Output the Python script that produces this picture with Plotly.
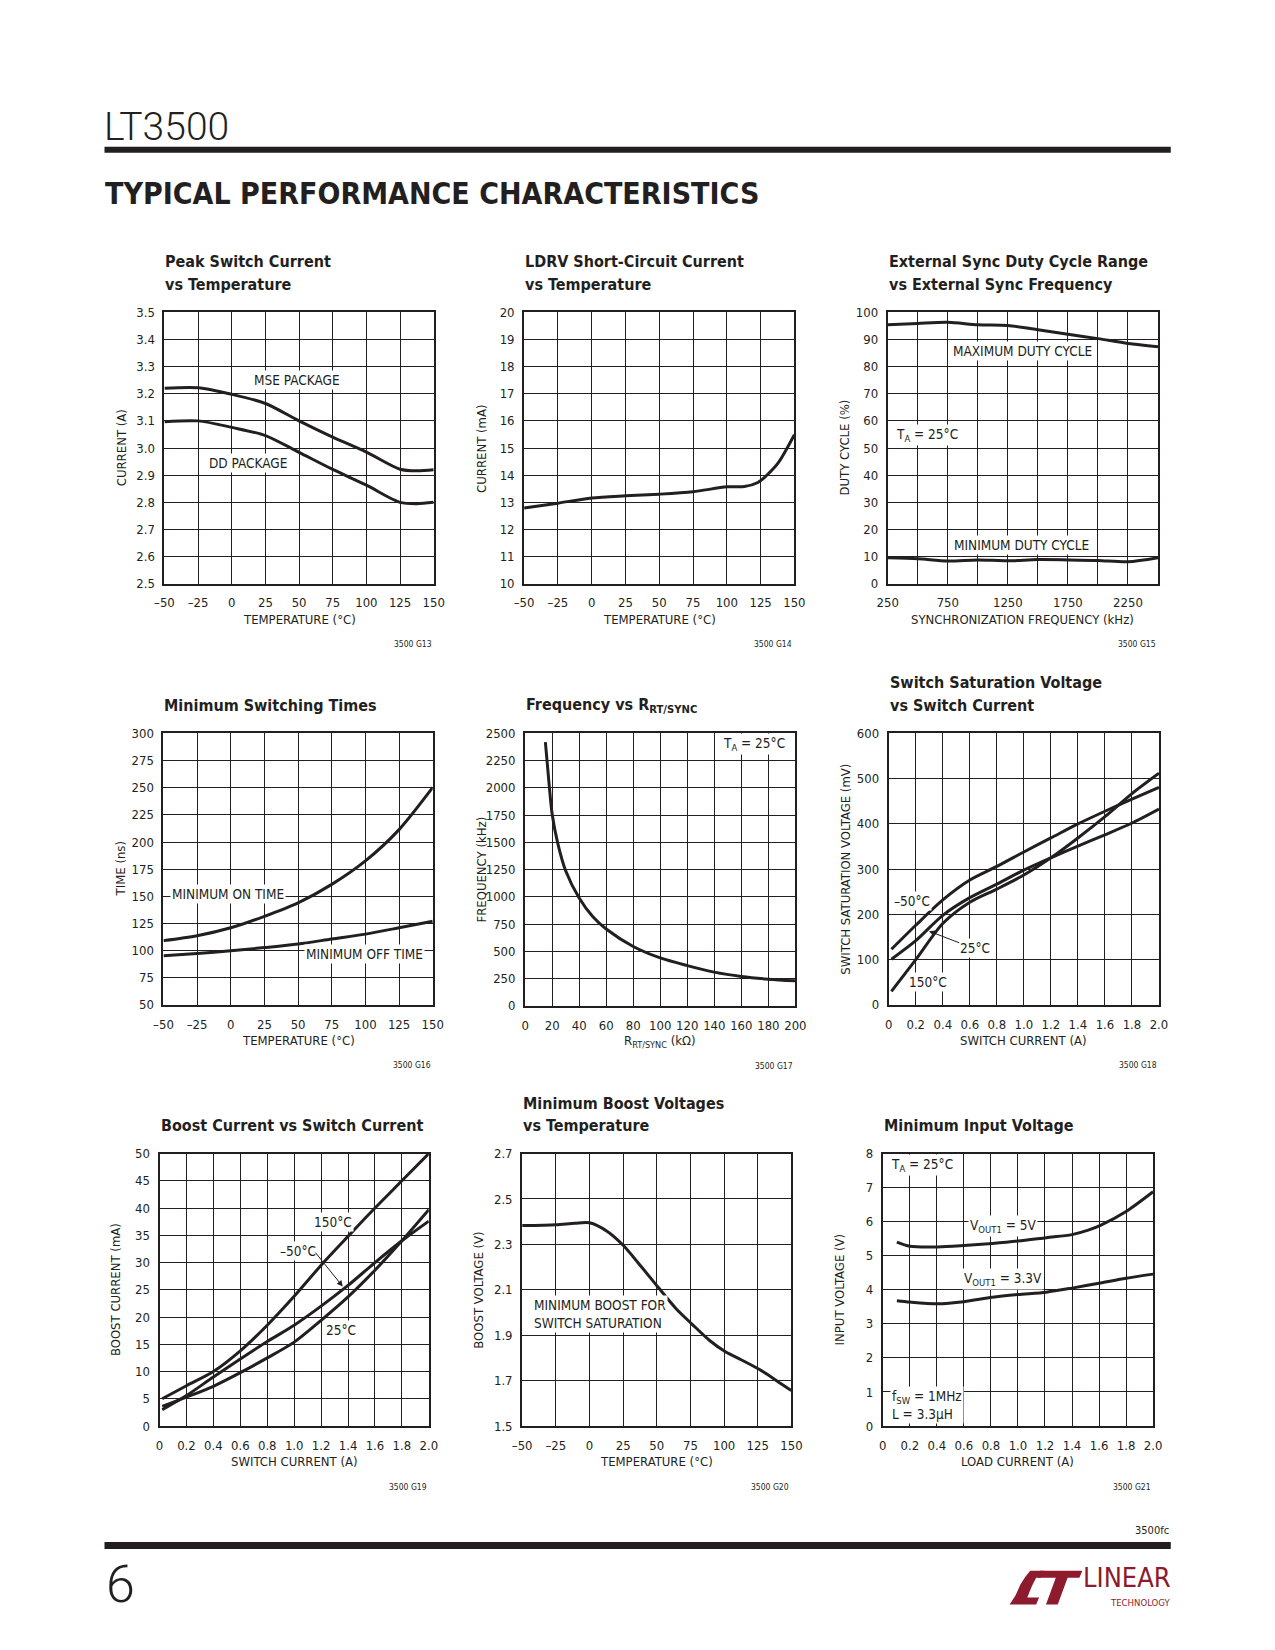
import plotly.graph_objects as go

# ---------------- page geometry helpers ----------------
# the figure is placed by the page 8px from the top-left corner
OFF = 8
W, H = 1275, 1650


def fx(px):
    return (px - OFF) / W


def fy(py):
    return 1 - (py - OFF) / H


FONT = "Liberation Sans Narrow, DejaVu Sans Condensed, Arial Narrow, Roboto, sans-serif"
LIGHT = "Roboto, DejaVu Sans Condensed, sans-serif"
INK = "#231f20"
LOGO = "#8e1b2d"

# ---------------- data ----------------
temp_ticks = [-50, -25, 0, 25, 50, 75, 100, 125, 150]
temp_labels = ["–50", "–25", "0", "25", "50", "75", "100", "125", "150"]
amp_ticks = [0, 0.2, 0.4, 0.6, 0.8, 1.0, 1.2, 1.4, 1.6, 1.8, 2.0]
amp_labels = ["0", "0.2", "0.4", "0.6", "0.8", "1.0", "1.2", "1.4", "1.6", "1.8", "2.0"]

# G13 Peak switch current
g13_temp = [-50, -25, 0, 25, 50, 75, 100, 125, 137.5, 150]
g13_mse = [3.220, 3.222, 3.198, 3.164, 3.100, 3.040, 2.985, 2.922, 2.916, 2.920]
g13_dd = [3.097, 3.100, 3.076, 3.046, 2.984, 2.921, 2.863, 2.800, 2.795, 2.800]
g13_yticks = [2.5, 2.6, 2.7, 2.8, 2.9, 3.0, 3.1, 3.2, 3.3, 3.4, 3.5]
g13_ylabels = ["2.5", "2.6", "2.7", "2.8", "2.9", "3.0", "3.1", "3.2", "3.3", "3.4", "3.5"]

# G14 LDRV short-circuit current
g14_temp = [-50, -25, 0, 25, 50, 75, 100, 113, 123, 129, 138, 150]
g14_cur = [12.79, 12.97, 13.16, 13.24, 13.30, 13.39, 13.57, 13.58, 13.73, 13.97, 14.45, 15.49]
g14_yticks = [10, 11, 12, 13, 14, 15, 16, 17, 18, 19, 20]

# G15 External sync duty cycle
g15_freq = [250, 500, 750, 1000, 1250, 1500, 1750, 2000, 2250, 2500]
g15_max = [95.4, 95.9, 96.3, 95.4, 95.1, 93.6, 91.9, 90.3, 88.5, 87.3]
g15_min = [9.6, 9.2, 8.4, 8.8, 8.5, 8.9, 8.8, 8.6, 8.1, 9.6]
g15_xticks = [250, 750, 1250, 1750, 2250]
g15_yticks = [0, 10, 20, 30, 40, 50, 60, 70, 80, 90, 100]

# G16 Minimum switching times
g16_temp = [-50, -25, 0, 25, 50, 75, 100, 125, 150]
g16_on = [109.2, 113.7, 121.0, 131.6, 144.0, 161.0, 182.6, 211.4, 250.2]
g16_off = [95.2, 97.3, 99.8, 102.8, 106.1, 110.7, 115.2, 121.0, 127.1]
g16_yticks = [50, 75, 100, 125, 150, 175, 200, 225, 250, 275, 300]

# G17 Frequency vs R
g17_r = [15, 17.5, 20, 24, 30, 40, 50, 60, 80, 100, 120, 140, 160, 180, 200]
g17_f = [2420, 2070, 1760, 1500, 1240, 990, 820, 705, 545, 440, 370, 310, 270, 245, 230]
g17_xticks = [0, 20, 40, 60, 80, 100, 120, 140, 160, 180, 200]
g17_yticks = [0, 250, 500, 750, 1000, 1250, 1500, 1750, 2000, 2250, 2500]

# G18 Switch saturation voltage
g18_i = [0.02, 0.2, 0.4, 0.6, 0.8, 1.0, 1.2, 1.4, 1.6, 1.8, 2.0]
g18_m50 = [123, 176, 232, 276, 306, 338, 369, 400, 428, 455, 481]
g18_25 = [101, 142, 198, 237, 267, 298, 325, 351, 376, 402, 433]
g18_150 = [30, 100, 180, 227, 256, 287, 325, 369, 416, 467, 512]
g18_yticks = [0, 100, 200, 300, 400, 500, 600]

# G19 Boost current
g19_i = [0.02, 0.2, 0.4, 0.6, 0.8, 1.0, 1.2, 1.4, 1.6, 1.8, 2.0]
g19_150 = [5.0, 7.4, 10.0, 13.8, 18.5, 23.8, 29.5, 34.8, 40.0, 45.0, 50.0]
g19_m50 = [3.0, 5.6, 9.0, 12.3, 15.5, 18.5, 22.0, 25.8, 30.0, 34.0, 37.6]
g19_25 = [3.6, 5.3, 7.3, 9.8, 12.5, 15.4, 19.4, 23.7, 28.6, 34.0, 39.7]
g19_yticks = [0, 5, 10, 15, 20, 25, 30, 35, 40, 45, 50]

# G20 Minimum boost voltage
g20_temp = [-50, -25, -11, 0, 13, 25, 39, 51, 64, 76.5, 89, 101, 113, 126, 139, 150]
g20_v = [2.383, 2.387, 2.393, 2.395, 2.358, 2.296, 2.198, 2.111, 2.019, 1.947, 1.878, 1.827, 1.791, 1.750, 1.700, 1.656]
g20_yticks = [1.5, 1.7, 1.9, 2.1, 2.3, 2.5, 2.7]

# G21 Minimum input voltage
g21_i = [0.104, 0.2, 0.407, 0.6, 0.81, 1.0, 1.21, 1.4, 1.52, 1.61, 1.8, 2.0]
g21_5v = [5.40, 5.28, 5.26, 5.30, 5.36, 5.43, 5.53, 5.62, 5.75, 5.89, 6.30, 6.88]
g21_i33 = [0.104, 0.2, 0.407, 0.6, 0.81, 1.0, 1.21, 1.4, 1.61, 1.8, 2.0]
g21_33v = [3.68, 3.64, 3.59, 3.65, 3.78, 3.86, 3.93, 4.05, 4.20, 4.34, 4.46]
g21_yticks = [0, 1, 2, 3, 4, 5, 6, 7, 8]


def lbl(v):
    return [str(t) for t in v]


panels = [
    dict(box=(156, 308, 430, 582), xr=[-50, 150], yr=[2.5, 3.5], xt=temp_ticks, xl=temp_labels,
         yt=g13_yticks, yl=g13_ylabels, title=["Peak Switch Current", "vs Temperature"],
         xtitle="TEMPERATURE (°C)", ytitle="CURRENT (A)", code="3500 G13"),
    dict(box=(522, 308, 797, 582), xr=[-50, 150], yr=[10, 20], xt=temp_ticks, xl=temp_labels,
         yt=g14_yticks, yl=lbl(g14_yticks), title=["LDRV Short-Circuit Current", "vs Temperature"],
         xtitle="TEMPERATURE (°C)", ytitle="CURRENT (mA)", code="3500 G14"),
    dict(box=(892, 308, 1167, 582), xr=[250, 2500], yr=[0, 100], xt=g15_xticks, xl=lbl(g15_xticks),
         yt=g15_yticks, yl=lbl(g15_yticks), minor=250,
         title=["External Sync Duty Cycle Range", "vs External Sync Frequency"],
         xtitle="SYNCHRONIZATION FREQUENCY (kHz)", ytitle="DUTY CYCLE (%)", code="3500 G15"),
    dict(box=(155, 733, 429, 1007), xr=[-50, 150], yr=[50, 300], xt=temp_ticks, xl=temp_labels,
         yt=g16_yticks, yl=lbl(g16_yticks), title=["Minimum Switching Times"],
         xtitle="TEMPERATURE (°C)", ytitle="TIME (ns)", code="3500 G16"),
    dict(box=(523, 733, 798, 1008), xr=[0, 200], yr=[0, 2500], xt=g17_xticks, xl=lbl(g17_xticks),
         yt=g17_yticks, yl=lbl(g17_yticks), title=["Frequency vs R<sub>RT/SYNC</sub>"],
         xtitle="R<sub>RT/SYNC</sub> (kΩ)", ytitle="FREQUENCY (kHz)", code="3500 G17"),
    dict(box=(893, 733, 1168, 1007), xr=[0, 2], yr=[0, 600], xt=amp_ticks, xl=amp_labels,
         yt=g18_yticks, yl=lbl(g18_yticks), title=["Switch Saturation Voltage", "vs Switch Current"],
         xtitle="SWITCH CURRENT (A)", ytitle="SWITCH SATURATION VOLTAGE (mV)", code="3500 G18"),
    dict(box=(151, 1157, 425, 1432), xr=[0, 2], yr=[0, 50], xt=amp_ticks, xl=amp_labels,
         yt=g19_yticks, yl=lbl(g19_yticks), title=["Boost Current vs Switch Current"],
         xtitle="SWITCH CURRENT (A)", ytitle="BOOST CURRENT (mA)", code="3500 G19"),
    dict(box=(520, 1157, 794, 1432), xr=[-50, 150], yr=[1.5, 2.7], xt=temp_ticks, xl=temp_labels,
         yt=g20_yticks, yl=lbl(g20_yticks), title=["Minimum Boost Voltages", "vs Temperature"],
         xtitle="TEMPERATURE (°C)", ytitle="BOOST VOLTAGE (V)", code="3500 G20"),
    dict(box=(887, 1157, 1162, 1432), xr=[0, 2], yr=[0, 8], xt=amp_ticks, xl=amp_labels,
         yt=g21_yticks, yl=lbl(g21_yticks), title=["Minimum Input Voltage"],
         xtitle="LOAD CURRENT (A)", ytitle="INPUT VOLTAGE (V)", code="3500 G21"),
]

curves = [
    (1, g13_temp, g13_mse), (1, g13_temp, g13_dd),
    (2, g14_temp, g14_cur),
    (3, g15_freq, g15_max), (3, g15_freq, g15_min),
    (4, g16_temp, g16_on), (4, g16_temp, g16_off),
    (5, g17_r, g17_f),
    (6, g18_i, g18_m50), (6, g18_i, g18_25), (6, g18_i, g18_150),
    (7, g19_i, g19_150), (7, g19_i, g19_m50), (7, g19_i, g19_25),
    (8, g20_temp, g20_v),
    (9, g21_i, g21_5v), (9, g21_i33, g21_33v),
]

fig = go.Figure()
annotations = []
shapes = []
layout = {}

tick_font = dict(family=FONT, size=13, color=INK)

for i, p in enumerate(panels, start=1):
    l, t, r, b = p["box"]
    sx = "" if i == 1 else str(i)
    xa = dict(domain=[fx(l), fx(r)], range=p["xr"], anchor="y" + sx, tickmode="array",
              tickvals=p["xt"], ticktext=p["xl"], showgrid=True, gridcolor=INK, gridwidth=1.2,
              showline=True, mirror=True, linecolor=INK, linewidth=2, ticks="", zeroline=False,
              tickfont=tick_font, fixedrange=True, ticklabelstandoff=6)
    if "minor" in p:
        xa["minor"] = dict(tickmode="linear", tick0=p["xr"][0], dtick=p["minor"], showgrid=True,
                           gridcolor=INK, gridwidth=1.2)
    ya = dict(domain=[fy(b), fy(t)], range=p["yr"], anchor="x" + sx, tickmode="array",
              tickvals=p["yt"], ticktext=p["yl"], showgrid=True, gridcolor=INK, gridwidth=1.2,
              showline=True, mirror=True, linecolor=INK, linewidth=2, ticks="", zeroline=False,
              tickfont=tick_font, fixedrange=True, ticklabelstandoff=5)
    layout["xaxis" + sx] = xa
    layout["yaxis" + sx] = ya
    # chart title, one annotation per line
    n = len(p["title"])
    for k, line in enumerate(p["title"]):
        cy = t - 28 - 23 * (n - 1 - k)
        annotations.append(dict(text="<b>" + line + "</b>", xref="paper", yref="paper",
                                x=fx(l - 1), y=fy(cy), xanchor="left", yanchor="middle",
                                align="left", showarrow=False,
                                font=dict(family=FONT, size=16, color=INK)))
    # axis titles
    annotations.append(dict(text=p["xtitle"], xref="paper", yref="paper", x=fx((l + r) / 2),
                            y=fy(b + 36), xanchor="center", yanchor="middle", showarrow=False,
                            font=dict(family=FONT, size=13, color=INK)))
    annotations.append(dict(text=p["ytitle"], xref="paper", yref="paper", x=fx(l - 44),
                            y=fy((t + b) / 2), xanchor="center", yanchor="middle", textangle=-90,
                            showarrow=False, font=dict(family=FONT, size=13, color=INK)))
    annotations.append(dict(text=p["code"], xref="paper", yref="paper", x=fx(r), y=fy(b + 61),
                            xanchor="right", yanchor="middle", showarrow=False,
                            font=dict(family=FONT, size=8.5, color=INK)))

for idx, xs, ys in curves:
    sx = "" if idx == 1 else str(idx)
    fig.add_trace(go.Scatter(x=xs, y=ys, mode="lines", xaxis="x" + sx, yaxis="y" + sx,
                             line=dict(color=INK, width=3, shape="spline", smoothing=0.8),
                             showlegend=False, hoverinfo="skip"))


def note(idx, x, y, text, xanchor="center", align="center"):
    sx = "" if idx == 1 else str(idx)
    annotations.append(dict(text=text, xref="x" + sx, yref="y" + sx, x=x, y=y, xanchor=xanchor,
                            yanchor="middle", align=align, showarrow=False, bgcolor="white",
                            borderpad=1, font=dict(family=FONT, size=13.5, color=INK)))


def arrow(idx, x0, y0, x1, y1):
    sx = "" if idx == 1 else str(idx)
    annotations.append(dict(text="", xref="x" + sx, yref="y" + sx, axref="x" + sx, ayref="y" + sx,
                            x=x1, y=y1, ax=x0, ay=y0, showarrow=True, arrowhead=2, arrowsize=1.2,
                            arrowwidth=1, arrowcolor=INK))


note(1, 48.4, 3.249, "MSE PACKAGE")
note(1, 12, 2.945, "DD PACKAGE")
note(3, 1368, 85.6, "MAXIMUM DUTY CYCLE")
note(3, 1363, 14.4, "MINIMUM DUTY CYCLE")
note(3, 299, 54.9, "T<sub>A</sub> = 25°C", xanchor="left")
note(4, -2, 152, "MINIMUM ON TIME")
note(4, 99.5, 96.7, "MINIMUM OFF TIME")
note(5, 194, 2403, "T<sub>A</sub> = 25°C", xanchor="right")
note(6, 0.175, 229, "–50°C")
note(6, 0.642, 125, "25°C")
note(6, 0.29, 51, "150°C")
arrow(6, 0.533, 136, 0.298, 163)
note(7, 1.288, 37.4, "150°C")
note(7, 1.028, 32.2, "–50°C")
note(7, 1.351, 17.7, "25°C")
arrow(7, 1.149, 32.1, 1.361, 25.6)
note(8, -42.7, 1.995, "MINIMUM BOOST FOR<br>SWITCH SATURATION", xanchor="left", align="left")
note(9, 0.044, 7.66, "T<sub>A</sub> = 25°C", xanchor="left")
note(9, 0.892, 5.87, "V<sub>OUT1</sub> = 5V")
note(9, 0.892, 4.31, "V<sub>OUT1</sub> = 3.3V")
note(9, 0.056, 0.63, "f<sub>SW</sub> = 1MHz<br>L = 3.3µH", xanchor="left", align="left")

# ---------------- page header / footer ----------------
annotations.append(dict(text="LT3500", xref="paper", yref="paper", x=fx(92), y=fy(121),
                        xanchor="left", yanchor="middle", showarrow=False,
                        font=dict(family=LIGHT, size=39, color=INK, weight=300)))
annotations.append(dict(text="<b>TYPICAL PERFORMANCE CHARACTERISTICS</b>", xref="paper",
                        yref="paper", x=fx(93), y=fy(188), xanchor="left", yanchor="middle",
                        showarrow=False, font=dict(family=FONT, size=30, color=INK)))
annotations.append(dict(text="3500fc", xref="paper", yref="paper", x=fx(1180), y=fy(1537),
                        xanchor="right", yanchor="middle", showarrow=False,
                        font=dict(family=FONT, size=11, color=INK)))
annotations.append(dict(text="6", xref="paper", yref="paper", x=fx(94), y=fy(1592),
                        xanchor="left", yanchor="middle", showarrow=False,
                        font=dict(family=LIGHT, size=52, color=INK, weight=300)))
annotations.append(dict(text="LINEAR", xref="paper", yref="paper", x=fx(1182), y=fy(1602),
                        xanchor="right", yanchor="bottom", showarrow=False,
                        font=dict(family=FONT, size=27, color=LOGO)))
annotations.append(dict(text="TECHNOLOGY", xref="paper", yref="paper", x=fx(1181), y=fy(1602),
                        xanchor="right", yanchor="top", showarrow=False,
                        font=dict(family=FONT, size=9.5, color=LOGO)))

shapes.append(dict(type="rect", xref="paper", yref="paper", x0=fx(95), x1=fx(1180),
                   y0=fy(147), y1=fy(141), fillcolor=INK, line=dict(width=0)))
shapes.append(dict(type="rect", xref="paper", yref="paper", x0=fx(95), x1=fx(1180),
                   y0=fy(1556), y1=fy(1549), fillcolor=INK, line=dict(width=0)))


def pth(points):
    s = ""
    for k, (px, py) in enumerate(points):
        s += ("M" if k == 0 else "L") + f"{fx(px):.5f},{fy(py):.5f} "
    return s + "Z"


logo_l = [(1016, 1612), (1022, 1603), (1027, 1592), (1032, 1584), (1037, 1578), (1051, 1578),
          (1048, 1585), (1043, 1585), (1039, 1593), (1036, 1600), (1034, 1605), (1046, 1605),
          (1043, 1612)]
logo_t = [(1047, 1578), (1090, 1578), (1087, 1585), (1075, 1585), (1065, 1612), (1053, 1612),
          (1063, 1585), (1045, 1585)]
for pts in (logo_l, logo_t):
    shapes.append(dict(type="path", xref="paper", yref="paper", path=pth(pts), fillcolor=LOGO,
                       line=dict(width=0)))

fig.update_layout(width=W, height=H, autosize=False, margin=dict(l=0, r=0, t=0, b=0, pad=0),
                  paper_bgcolor="white", plot_bgcolor="white", showlegend=False,
                  annotations=annotations, shapes=shapes, **layout)

fig.write_html("out.html")
